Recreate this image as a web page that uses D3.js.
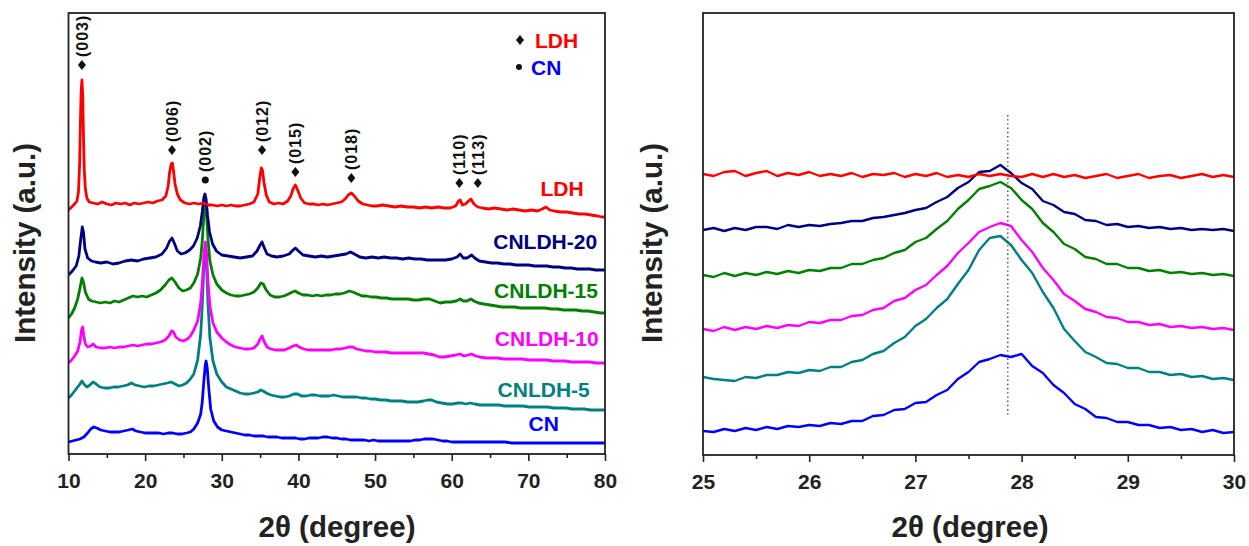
<!DOCTYPE html>
<html>
<head>
<meta charset="utf-8">
<script src="https://cdn.jsdelivr.net/npm/d3@7"></script>
<style>
  html, body { margin: 0; padding: 0; background: #fff; }
  svg { display: block; font-family: "Liberation Sans", Arial, sans-serif; font-weight: bold; }
</style>
</head>
<body>
<svg id="chart" width="1249" height="546"></svg>
<script>
// ---------- samples ----------
const sampleNames = ["LDH", "CNLDH-20", "CNLDH-15", "CNLDH-10", "CNLDH-5", "CN"];
const sampleColors = ["#ff0000", "#000080", "#008000", "#ff00ff", "#008080", "#0000ff"];

// ---------- full scans, 10-80 deg: [2theta, intensity (a.u., stacked)] ----------
const scanLDH = [[10.0,244],[10.4,247],[10.8,250],[11.1,253],[11.3,262],[11.45,290],[11.55,330],[11.65,362],[11.75,374],[11.85,360],[11.95,320],[12.05,285],[12.2,265],[12.4,256],[12.7,252],[13.2,251],[13.8,250],[14.4,252],[15.0,250],[15.6,249],[16.2,251],[16.8,250],[17.4,251],[18.0,249],[18.6,251],[19.2,250],[19.8,251],[20.4,252],[21.0,251],[21.6,253],[22.2,254],[22.7,258],[23.0,268],[23.2,282],[23.4,290],[23.55,291],[23.7,283],[23.9,270],[24.2,260],[24.6,254],[25.2,251],[25.8,250],[26.4,251],[27.0,250],[27.6,251],[28.2,249],[28.8,249],[29.4,248],[30.0,249],[30.6,248],[31.2,249],[31.8,248],[32.4,248],[33.0,249],[33.6,250],[34.2,252],[34.7,260],[34.95,276],[35.15,286],[35.3,284],[35.5,272],[35.8,259],[36.2,252],[36.8,250],[37.4,251],[38.0,250],[38.6,253],[39.0,258],[39.3,265],[39.6,269],[39.9,264],[40.3,256],[40.8,251],[41.4,250],[42.0,250],[42.6,249],[43.2,250],[43.8,249],[44.4,250],[45.0,251],[45.6,252],[46.1,255],[46.5,259],[46.9,261],[47.3,258],[47.8,253],[48.4,250],[49.0,249],[49.6,248],[50.2,248],[51.0,249],[51.8,248],[52.6,247],[53.4,248],[54.2,247],[55.0,247],[55.8,246],[56.6,247],[57.4,246],[58.2,247],[59.0,246],[59.8,246],[60.5,248],[60.9,253],[61.1,254],[61.4,249],[61.8,250],[62.2,253],[62.5,255],[62.9,250],[63.4,247],[64.0,246],[64.8,245],[65.6,246],[66.4,245],[67.2,244],[68.0,245],[68.8,244],[69.6,243],[70.4,244],[71.2,243],[71.8,245],[72.3,247],[72.8,244],[73.4,243],[74.2,242],[75.0,242],[75.8,241],[76.6,240],[77.4,240],[78.2,239],[79.0,238],[79.6,237],[80.0,237]];

const scanCNLDH20 = [[10.0,179],[10.5,183],[11.0,188],[11.35,198],[11.6,215],[11.8,227],[11.95,222],[12.15,205],[12.5,196],[13.0,193],[13.5,192],[14.2,191],[15.0,192],[15.8,190],[16.6,191],[17.4,193],[18.2,194],[19.0,193],[19.8,195],[20.6,196],[21.4,197],[22.2,200],[22.8,206],[23.2,213],[23.5,216],[23.8,211],[24.2,203],[24.7,200],[25.2,201],[25.8,204],[26.3,208],[26.8,216],[27.2,228],[27.45,242],[27.65,256],[27.8,260],[27.95,255],[28.15,238],[28.4,222],[28.8,210],[29.3,203],[30.0,199],[30.8,198],[31.6,197],[32.4,196],[33.2,197],[34.0,198],[34.6,203],[35.0,209],[35.25,212],[35.5,207],[35.9,200],[36.5,198],[37.2,197],[38.0,198],[38.8,200],[39.3,204],[39.6,206],[40.0,203],[40.6,199],[41.4,198],[42.2,197],[43.0,198],[43.8,197],[44.6,198],[45.4,199],[46.2,200],[46.8,202],[47.3,200],[48.0,197],[48.8,196],[49.6,197],[50.4,196],[51.2,197],[52.0,196],[52.8,196],[53.6,195],[54.4,196],[55.2,195],[56.0,195],[56.8,194],[57.6,194],[58.4,194],[59.2,194],[60.0,195],[60.7,197],[61.1,200],[61.5,196],[62.0,196],[62.6,199],[63.0,196],[63.6,193],[64.4,192],[65.2,191],[66.0,191],[66.8,190],[67.6,190],[68.4,189],[69.2,189],[70.0,189],[70.8,188],[71.6,188],[72.4,188],[73.2,187],[74.0,187],[74.8,186],[75.6,186],[76.4,185],[77.2,185],[78.0,185],[78.8,184],[79.6,184],[80.0,184]];

const scanCNLDH15 = [[10.0,136],[10.4,140],[10.8,146],[11.2,155],[11.5,166],[11.75,176],[11.95,172],[12.2,162],[12.6,155],[13.0,153],[13.6,152],[14.2,151],[14.8,152],[15.4,151],[16.0,153],[16.6,152],[17.2,154],[17.8,156],[18.4,158],[19.0,157],[19.6,158],[20.2,157],[20.8,159],[21.4,161],[22.0,164],[22.6,169],[23.1,174],[23.5,176],[23.9,172],[24.4,166],[24.9,163],[25.4,164],[25.9,166],[26.35,171],[26.85,180],[27.25,196],[27.45,213],[27.65,237],[27.85,250],[28.0,241],[28.2,215],[28.45,193],[28.85,179],[29.35,170],[30.0,164],[30.6,161],[31.2,159],[31.8,158],[32.4,158],[33.0,159],[33.6,160],[34.2,162],[34.7,166],[35.1,171],[35.4,170],[35.8,164],[36.3,159],[36.9,157],[37.5,157],[38.1,158],[38.7,160],[39.2,162],[39.6,163],[40.0,161],[40.6,159],[41.2,159],[41.8,158],[42.4,159],[43.0,158],[43.6,159],[44.2,159],[44.8,160],[45.4,160],[46.0,161],[46.6,163],[47.1,162],[47.7,160],[48.3,158],[48.9,158],[49.5,157],[50.1,157],[50.8,156],[51.5,156],[52.2,155],[52.9,155],[53.6,155],[54.3,155],[55.0,154],[55.7,154],[56.4,155],[57.1,155],[57.8,153],[58.5,151],[59.2,152],[59.9,152],[60.6,153],[61.1,155],[61.5,153],[62.0,153],[62.5,155],[62.9,153],[63.5,151],[64.2,150],[65.0,149],[65.8,148],[66.6,147],[67.4,147],[68.2,147],[69.0,146],[69.8,146],[70.6,146],[71.4,146],[72.2,146],[73.0,145],[73.8,145],[74.6,144],[75.4,144],[76.2,144],[77.0,143],[77.8,143],[78.6,142],[79.4,141],[80.0,141]];

const scanCNLDH10 = [[10.0,91],[10.4,94],[10.8,98],[11.2,103],[11.5,112],[11.7,124],[11.85,127],[12.0,118],[12.2,110],[12.5,107],[12.9,108],[13.2,110],[13.6,107],[14.2,106],[14.8,106],[15.4,107],[16.0,106],[16.6,107],[17.2,107],[17.8,108],[18.4,109],[19.0,108],[19.6,109],[20.2,110],[20.8,110],[21.4,111],[22.0,112],[22.6,114],[23.1,118],[23.45,123],[23.7,122],[24.0,117],[24.5,114],[25.0,113],[25.5,115],[25.9,118],[26.35,124],[26.85,133],[27.25,151],[27.45,170],[27.65,197],[27.85,212],[28.0,202],[28.2,172],[28.45,148],[28.85,131],[29.35,122],[30.0,116],[30.6,112],[31.2,109],[31.8,107],[32.4,106],[33.0,105],[33.6,105],[34.2,106],[34.7,110],[35.0,115],[35.25,118],[35.5,113],[35.9,107],[36.4,105],[37.0,104],[37.6,104],[38.2,104],[38.8,106],[39.3,108],[39.7,109],[40.1,107],[40.7,105],[41.3,104],[41.9,104],[42.5,104],[43.1,104],[43.7,104],[44.3,104],[44.9,105],[45.5,105],[46.1,106],[46.6,107],[47.1,107],[47.6,105],[48.2,104],[48.8,103],[49.4,103],[50.0,102],[50.7,102],[51.4,102],[52.1,101],[52.8,101],[53.5,101],[54.2,101],[54.9,101],[55.6,101],[56.3,101],[57.0,100],[57.7,99],[58.4,97],[59.1,97],[59.8,98],[60.5,99],[61.1,100],[61.6,98],[62.1,99],[62.6,100],[63.1,98],[63.7,97],[64.4,96],[65.2,96],[66.0,96],[66.8,95],[67.6,95],[68.4,95],[69.2,95],[70.0,94],[70.8,94],[71.6,94],[72.4,94],[73.2,93],[74.0,93],[74.8,93],[75.6,92],[76.4,92],[77.2,92],[78.0,92],[78.8,91],[79.6,91],[80.0,91]];

const scanCNLDH5 = [[10.0,56],[10.4,59],[10.8,63],[11.2,67],[11.5,70],[11.75,73],[12.0,70],[12.4,67],[12.8,69],[13.2,72],[13.6,70],[14.1,67],[14.7,66],[15.3,66],[15.9,67],[16.5,67],[17.1,68],[17.7,69],[18.2,71],[18.7,69],[19.3,68],[19.9,67],[20.5,68],[21.1,68],[21.7,69],[22.3,70],[22.9,71],[23.4,72],[23.9,70],[24.4,68],[24.9,69],[25.4,71],[25.9,75],[26.35,80],[26.85,94],[27.25,120],[27.45,148],[27.65,185],[27.85,205],[28.0,192],[28.2,150],[28.45,116],[28.85,93],[29.35,80],[30.0,72],[30.6,67],[31.2,65],[31.8,63],[32.4,61],[33.0,60],[33.6,60],[34.2,61],[34.7,62],[35.1,64],[35.4,63],[35.8,61],[36.4,59],[37.0,58],[37.6,57],[38.2,57],[38.8,58],[39.4,60],[39.9,60],[40.4,58],[41.0,58],[41.6,59],[42.2,59],[42.8,58],[43.4,58],[44.0,58],[44.6,59],[45.2,58],[45.8,57],[46.4,57],[47.0,57],[47.6,57],[48.2,56],[48.8,56],[49.4,55],[50.0,55],[50.7,54],[51.4,54],[52.1,53],[52.8,53],[53.5,53],[54.2,52],[54.9,52],[55.6,52],[56.3,53],[56.9,54],[57.4,54],[58.0,52],[58.7,51],[59.4,50],[60.1,50],[60.8,51],[61.3,51],[61.8,50],[62.4,51],[63.0,50],[63.7,49],[64.5,49],[65.3,49],[66.1,49],[66.9,48],[67.7,48],[68.5,48],[69.3,48],[70.1,47],[70.9,47],[71.7,47],[72.5,47],[73.3,46],[74.1,46],[74.9,46],[75.7,45],[76.5,45],[77.3,45],[78.1,44],[78.9,44],[79.6,44],[80.0,44]];

const scanCN = [[10.0,12],[10.5,13],[11.0,14],[11.5,15],[12.0,17],[12.5,21],[12.9,25],[13.3,27],[13.7,26],[14.2,24],[14.8,23],[15.4,22],[16.0,22],[16.6,22],[17.2,23],[17.8,24],[18.3,25],[18.8,23],[19.4,22],[20.0,21],[20.6,21],[21.2,21],[21.8,21],[22.4,20],[23.0,21],[23.6,21],[24.2,20],[24.8,20],[25.4,21],[25.9,22],[26.35,25],[26.85,31],[27.25,40],[27.45,52],[27.65,72],[27.85,89],[27.95,93],[28.1,86],[28.3,66],[28.55,45],[28.95,33],[29.45,27],[30.0,24],[30.6,23],[31.2,22],[31.8,21],[32.4,20],[33.0,19],[33.6,19],[34.2,18],[34.8,18],[35.4,18],[36.0,17],[36.6,17],[37.2,17],[37.8,16],[38.4,16],[39.0,16],[39.6,16],[40.2,15],[40.8,15],[41.4,16],[42.0,16],[42.6,16],[43.2,17],[43.8,17],[44.4,16],[45.0,16],[45.6,15],[46.2,15],[46.8,14],[47.4,14],[48.0,14],[48.6,14],[49.2,13],[49.8,14],[50.4,13],[51.0,13],[51.6,13],[52.2,13],[52.8,13],[53.4,13],[54.0,13],[54.6,13],[55.2,14],[55.8,14],[56.4,15],[57.0,15],[57.6,15],[58.2,14],[58.8,13],[59.4,13],[60.0,12],[60.6,12],[61.2,12],[61.8,12],[62.4,12],[63.0,12],[63.8,12],[64.6,12],[65.4,12],[66.2,12],[67.0,12],[67.8,11],[68.6,11],[69.4,11],[70.2,11],[71.0,11],[71.8,11],[72.6,11],[73.4,11],[74.2,11],[75.0,11],[75.8,11],[76.6,11],[77.4,11],[78.2,11],[79.0,11],[80.0,11]];

// ---------- fine scans of the (002) region, 25-30 deg in 0.1 deg steps ----------
const fineStart = 25.0, fineStep = 0.1;
const fineLDH      = [281,279,283,284,279,282,284,279,282,280, 283,279,281,279,282,278,281,280,282,278, 281,279,282,278,280,278,281,279,281,279, 278,281,278,281,278,280,277,279,281,277, 279,281,277,279,280,277,279,281,278,280, 278];
const fineCNLDH20  = [225,227,224,227,225,228,228,226,230,228, 230,229,231,232,234,234,237,238,240,242, 245,247,253,258,267,273,283,284,290,282, 272,266,254,250,243,241,235,234,230,231, 228,229,227,228,226,227,225,226,225,226, 224];
const fineCNLDH15  = [180,178,182,179,182,180,183,181,184,182, 185,184,187,187,191,191,195,197,202,205, 213,217,226,234,246,255,266,269,273,267, 255,246,232,223,211,206,198,196,191,191, 187,187,184,185,182,183,181,182,180,181, 179];
const fineCNLDH10  = [126,124,128,125,128,126,129,127,130,129, 133,132,135,135,139,140,145,147,154,157, 165,170,180,189,202,212,223,228,232,229, 215,203,187,175,161,154,146,143,138,137, 133,133,130,131,128,129,127,128,126,127, 125];
const fineCNLDH5   = [78,76,75,74,78,77,80,80,83,82, 85,84,88,88,93,95,101,104,112,118, 129,136,147,156,171,185,205,217,219,210, 195,182,163,147,126,114,103,98,92,91, 87,87,83,83,80,81,78,79,76,77, 75];
const fineCN       = [24,23,26,24,27,25,28,26,29,28, 30,29,32,31,34,34,39,40,45,46, 52,53,60,65,76,83,93,96,100,98, 101,89,82,70,62,51,46,38,37,33, 33,30,30,27,28,25,26,23,25,22, 23];

// ---------- reflection markers ----------
const reflAngles = [11.75, 23.5, 27.85, 35.25, 39.6, 46.9, 61.0, 63.4];
const reflLabels = ["(003)", "(006)", "(002)", "(012)", "(015)", "(018)", "(110)", "(113)"];
const reflPhase  = ["LDH", "LDH", "CN", "LDH", "LDH", "LDH", "LDH", "LDH"];
const reflLevels = [389, 304, 274, 304, 282, 276, 271, 271];

// ---------- axis ticks ----------
const wideTicks = [10, 20, 30, 40, 50, 60, 70, 80];
const wideMinor = [15, 25, 35, 45, 55, 65, 75];
const fineTicks = [25, 26, 27, 28, 29, 30];
const fineMinor = [25.5, 26.5, 27.5, 28.5, 29.5];
const peakRef = 27.87;

// sample label placement in the wide panel: [2theta, intensity]
const labelSpots = [[74.4, 266], [72.2, 213], [72.3, 164], [72.4, 116], [72.0, 65], [72.0, 31]];

// ================= drawing =================
const svg = d3.select("#chart");
const FONT = '"Liberation Sans", Arial, sans-serif';
const INK = "#222";

const boxL = { x0: 68.5, x1: 605, y0: 13, y1: 454 };
const boxR = { x0: 703, x1: 1234, y0: 13, y1: 455 };

const xL = d3.scaleLinear().domain([10, 80]).range([boxL.x0, boxL.x1]);
const yL = d3.scaleLinear().domain([0, 441]).range([boxL.y1, boxL.y0]);
const xR = d3.scaleLinear().domain([25, 30]).range([boxR.x0, boxR.x1]);
const yR = d3.scaleLinear().domain([0, 442]).range([boxR.y1, boxR.y0]);

const wideScans = [scanLDH, scanCNLDH20, scanCNLDH15, scanCNLDH10, scanCNLDH5, scanCN];
const fineScans = [fineLDH, fineCNLDH20, fineCNLDH15, fineCNLDH10, fineCNLDH5, fineCN]
  .map(vals => vals.map((v, i) => [fineStart + i * fineStep, v]));

function drawFrame(box, x, major, minor) {
  const g = svg.append("g");
  const axMajor = g.append("g")
    .attr("transform", `translate(0,${box.y1})`)
    .call(d3.axisBottom(x).tickValues(major).tickSize(7).tickPadding(12).tickSizeOuter(0)
      .tickFormat(d3.format("d")));
  axMajor.select(".domain").remove();
  axMajor.selectAll("line").attr("stroke", INK).attr("stroke-width", 1.6);
  axMajor.selectAll("text")
    .attr("fill", INK).attr("font-size", 21).attr("font-weight", "bold").attr("font-family", FONT);

  const axMinor = g.append("g")
    .attr("transform", `translate(0,${box.y1})`)
    .call(d3.axisBottom(x).tickValues(minor).tickSize(4).tickSizeOuter(0).tickFormat(""));
  axMinor.select(".domain").remove();
  axMinor.selectAll("line").attr("stroke", INK).attr("stroke-width", 1.6);

  g.append("rect")
    .attr("x", box.x0).attr("y", box.y0)
    .attr("width", box.x1 - box.x0).attr("height", box.y1 - box.y0)
    .attr("fill", "none").attr("stroke", INK).attr("stroke-width", 1.8);
}

function drawTitles(xTitleCenter, yTitleBaseline) {
  svg.append("text")
    .attr("x", xTitleCenter).attr("y", 537)
    .attr("text-anchor", "middle")
    .attr("font-size", 29.5).attr("font-family", FONT).attr("fill", INK)
    .text("2θ (degree)");
  svg.append("text")
    .attr("transform", `translate(${yTitleBaseline},243) rotate(-90)`)
    .attr("text-anchor", "middle")
    .attr("font-size", 29.5).attr("font-family", FONT).attr("fill", INK)
    .text("Intensity (a.u.)");
}

function clipFor(id, box) {
  svg.append("clipPath").attr("id", id)
    .append("rect").attr("x", box.x0).attr("y", box.y0)
    .attr("width", box.x1 - box.x0).attr("height", box.y1 - box.y0);
}

// ---- wide-angle panel ----
clipFor("clipL", boxL);
const lineL = d3.line().x(d => xL(d[0])).y(d => yL(d[1]));
const gL = svg.append("g").attr("clip-path", "url(#clipL)");
[5, 4, 3, 2, 1, 0].forEach(i => {
  gL.append("path")
    .datum(wideScans[i])
    .attr("d", lineL)
    .attr("fill", "none")
    .attr("stroke", sampleColors[i])
    .attr("stroke-width", 2.8)
    .attr("stroke-linejoin", "round");
});

sampleNames.forEach((name, i) => {
  svg.append("text")
    .attr("x", xL(labelSpots[i][0])).attr("y", yL(labelSpots[i][1]))
    .attr("dy", "0.36em")
    .attr("text-anchor", "middle")
    .attr("font-size", 21).attr("font-family", FONT)
    .attr("fill", sampleColors[i])
    .text(name);
});

const diamond = "M0,-5L4,0L0,5L-4,0Z";
reflAngles.forEach((a, i) => {
  const cx = xL(a), cy = yL(reflLevels[i]);
  if (reflPhase[i] === "LDH") {
    svg.append("path").attr("d", diamond).attr("transform", `translate(${cx},${cy})`).attr("fill", "#111");
  } else {
    svg.append("circle").attr("cx", cx).attr("cy", cy).attr("r", 3.5).attr("fill", "#111");
  }
  svg.append("text")
    .attr("transform", `translate(${cx + 5.8},${cy - 8}) rotate(-90)`)
    .attr("font-size", 16).attr("font-family", FONT).attr("fill", "#111")
    .attr("letter-spacing", 1)
    .text(reflLabels[i]);
});

// phase key
const key = svg.append("g").attr("transform", `translate(${boxL.x1 - 85},0)`);
key.append("path").attr("d", diamond).attr("transform", "translate(0,40)").attr("fill", "#111");
key.append("text").attr("x", 15).attr("y", 40).attr("dy", "0.36em")
  .attr("font-size", 21).attr("font-family", FONT).attr("fill", "#ff0000").text("LDH");
key.append("circle").attr("cx", -1).attr("cy", 67).attr("r", 3).attr("fill", "#111");
key.append("text").attr("x", 11).attr("y", 67).attr("dy", "0.36em")
  .attr("font-size", 21).attr("font-family", FONT).attr("fill", "#0000ff").text("CN");

drawFrame(boxL, xL, wideTicks, wideMinor);
drawTitles(337, 35);

// ---- (002) detail panel ----
clipFor("clipR", boxR);
const lineR = d3.line().x(d => xR(d[0])).y(d => yR(d[1]));
const gR = svg.append("g").attr("clip-path", "url(#clipR)");
[5, 4, 3, 2, 1, 0].forEach(i => {
  gR.append("path")
    .datum(fineScans[i])
    .attr("d", lineR)
    .attr("fill", "none")
    .attr("stroke", sampleColors[i])
    .attr("stroke-width", 2.4)
    .attr("stroke-linejoin", "round");
});

svg.append("line")
  .attr("x1", xR(peakRef)).attr("x2", xR(peakRef))
  .attr("y1", yR(340)).attr("y2", yR(40))
  .attr("stroke", "#444").attr("stroke-width", 1.4)
  .attr("stroke-dasharray", "1.4,2.8");

drawFrame(boxR, xR, fineTicks, fineMinor);
drawTitles(970, 662);
</script>
</body>
</html>
